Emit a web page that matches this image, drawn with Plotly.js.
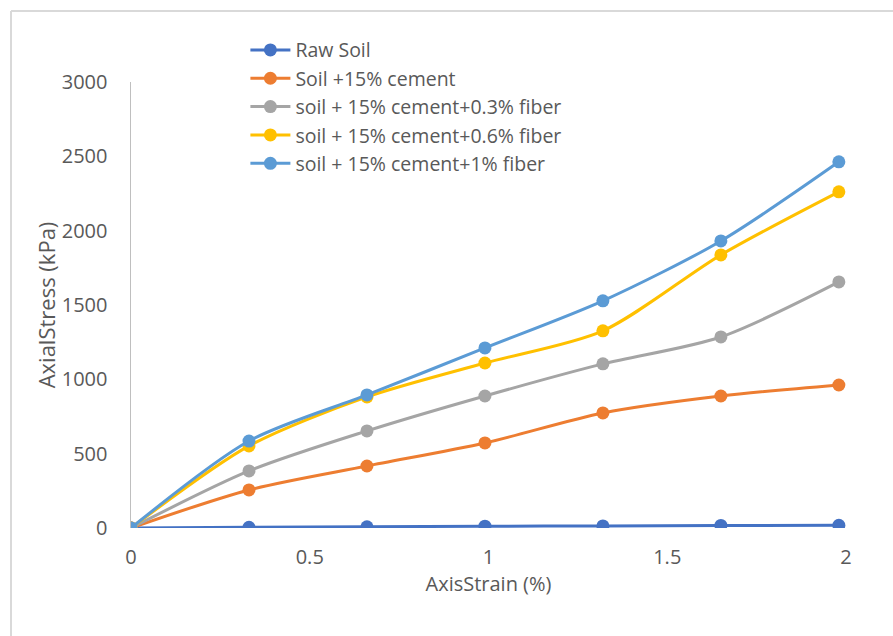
<!DOCTYPE html>
<html><head><meta charset="utf-8">
<script src="https://cdn.plot.ly/plotly-3.0.1.min.js"></script>
<style>body{margin:0;padding:0;background:#fff}#chart{width:893px;height:636px}</style>
</head><body><div id="chart"></div>
<script>
const strain = [0, 0.33, 0.66, 0.99, 1.32, 1.65, 1.98];
const seriesNames = ["Raw Soil", "Soil +15% cement", "soil + 15% cement+0.3% fiber", "soil + 15% cement+0.6% fiber", "soil + 15% cement+1% fiber"];
const rawSoil = [0, 5, 8, 12, 14, 17, 18];
const cement15 = [0, 256, 417, 572, 774, 888, 962];
const fiber03 = [0, 384, 653, 888, 1104, 1285, 1655];
const fiber06 = [0, 552, 882, 1110, 1326, 1837, 2261];
const fiber1 = [0, 585, 895, 1211, 1528, 1931, 2463];
const colors = ["#4472C4", "#ED7D31", "#A5A5A5", "#FFC000", "#5B9BD5"];
const allY = [rawSoil, cement15, fiber03, fiber06, fiber1];

const traces = allY.map((y, i) => ({
  x: strain, y: y, name: seriesNames[i], type: 'scatter', mode: 'lines+markers',
  line: {color: colors[i], width: 3, shape: 'spline', smoothing: 0.8},
  marker: {color: colors[i], size: 13}
}));

const font = "'Open Sans', 'DejaVu Sans', sans-serif";
const layout = {
  width: 893, height: 636,
  margin: {l: 131, r: 47, t: 82, b: 108},
  paper_bgcolor: '#fff', plot_bgcolor: '#fff',
  font: {family: font, size: 20, color: '#595959'},
  showlegend: true,
  legend: {x: 0.16, y: 1.115, xanchor: 'left', yanchor: 'top', bgcolor: 'rgba(0,0,0,0)',
    font: {family: font, size: 19.5, color: '#595959'}, tracegroupgap: 0, itemwidth: 40},
  xaxis: {range: [0, 2], tickvals: [0, 0.5, 1, 1.5, 2], ticktext: ['0', '0.5', '1', '1.5', '2'],
    showgrid: false, zeroline: false, showline: false, ticks: '', ticklabelstandoff: 15,
    title: {text: 'AxisStrain (%)', standoff: 0, font: {family: font, size: 20, color: '#595959'}}},
  yaxis: {range: [0, 3000], tickvals: [0, 500, 1000, 1500, 2000, 2500, 3000],
    showgrid: false, zeroline: false, showline: true, linecolor: '#bfbfbf', linewidth: 1.5, ticks: '',
    ticklabelstandoff: 18,
    title: {text: 'AxialStress (kPa)', standoff: 0, font: {family: font, size: 22, color: '#595959'}}},
  shapes: [
    {type: 'line', xref: 'paper', yref: 'paper', x0: (11 - 131) / 715, x1: (893 - 131) / 715, y0: (528 - 11) / 446, y1: (528 - 11) / 446, line: {color: '#d9d9d9', width: 2}},
    {type: 'line', xref: 'paper', yref: 'paper', x0: (11 - 131) / 715, x1: (11 - 131) / 715, y0: (528 - 11) / 446, y1: (528 - 640) / 446, line: {color: '#d9d9d9', width: 2}}
  ]
};
Plotly.newPlot('chart', traces, layout, {displayModeBar: false, staticPlot: true});
</script></body></html>
